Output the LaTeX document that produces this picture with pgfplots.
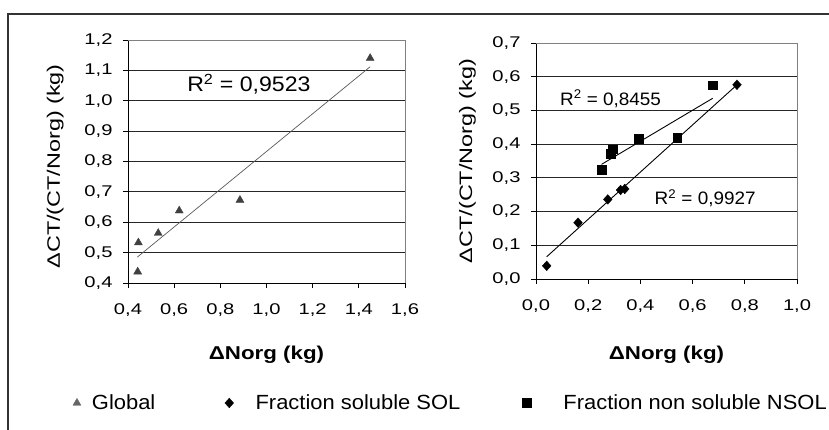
\documentclass[border=0pt]{standalone}
\usepackage{fontspec}
\setmainfont{Liberation Sans}
\usepackage{graphicx}
\usepackage{pgfplots}
\pgfplotsset{compat=1.18}

% the original text is set wider than Arial: stretch it along the baseline
\newcommand\wide[2]{\scalebox{#1}[1]{#2}}

% common look of both panels
\pgfplotsset{
  panel/.style={
    scale only axis, anchor=south west, clip=false,
    axis x line*=bottom, axis y line*=left,
    axis line style={-, black, line width=0.9pt},
    tick align=outside, major tick length=5pt,
    tick style={black, line width=0.9pt},
    ymajorgrids, grid style={black!85, line width=0.9pt},
    /pgf/number format/.cd, use comma, fixed, fixed zerofill, precision=1,
      assume math mode=true, /pgfplots/.cd,
    tick label style={font=\fontsize{15.5}{18}\selectfont},
    xticklabel={\wide{1.3}{\pgfmathprintnumber{\tick}}},
    yticklabel={\wide{1.3}{\pgfmathprintnumber{\tick}}},
    xticklabel style={yshift=-12pt},
    yticklabel style={xshift=-7pt},
    xlabel={\wide{1.2}{ΔNorg (kg)}},
    ylabel={\wide{1.3}{ΔCT/(CT/Norg) (kg)}},
    xlabel style={font=\bfseries\fontsize{18.6}{20}\selectfont, anchor=base},
    ylabel style={font=\fontsize{18}{20}\selectfont, anchor=base},
    after end axis/.code={
      \draw[black!50, line width=0.9pt] (rel axis cs:0,1) -- (rel axis cs:1,1) -- (rel axis cs:1,0);
    },
  },
}

\begin{document}
\begin{tikzpicture}
\useasboundingbox (0,0) rectangle (829pt,430pt);
\draw[black!80, line width=2pt] (8pt,0pt) -- (8pt,416pt) -- (829pt,416pt);

% left panel: Global
\begin{axis}[panel,
    at={(128pt,147pt)}, width=277pt, height=243pt,
    xmin=0.4, xmax=1.6, ymin=0.4, ymax=1.2,
    xtick={0.4,0.6,...,1.6}, ytick={0.4,0.5,...,1.2},
    xlabel style={at={(axis description cs:0.5,-0.3128)}},
    ylabel style={at={(axis description cs:-0.2455,0.48)}},
]
\addplot[only marks, mark=triangle*, mark size=4.6pt, color=black!75] coordinates {
    (0.442,0.437) (0.445,0.533) (0.531,0.564) (0.622,0.638) (0.885,0.673) (1.449,1.140)
};
\addplot[black!65, line width=0.7pt] coordinates {(0.44,0.485) (1.449,1.112)};
\node[anchor=base west, inner sep=0pt, font=\fontsize{21}{23}\selectfont]
    at (axis cs:0.656,1.030) {\wide{1.1}{R\textsuperscript{2} = 0,9523}};
\end{axis}

% right panel: SOL and NSOL fractions
\begin{axis}[panel,
    at={(536pt,151pt)}, width=261pt, height=236pt,
    xmin=0, xmax=1.0, ymin=0, ymax=0.7,
    xtick={0,0.2,...,1.0}, ytick={0,0.1,...,0.7},
    xlabel style={at={(axis description cs:0.5,-0.339)}},
    ylabel style={at={(axis description cs:-0.245,0.5)}},
    legend columns=3,
    legend cell align=left,
    legend style={at={(axis description cs:-1.774,-0.5254)}, anchor=west,
        draw=none, fill=none, inner sep=0pt, outer sep=0pt,
        font=\fontsize{20.5}{22}\selectfont,
        nodes={inner sep=0pt},
        /tikz/every odd column/.append style={column sep=11pt}},
    legend image code/.code={
        \draw[mark repeat=2, mark phase=2] plot coordinates {(0pt,0pt) (6pt,0pt) (12pt,0pt)};
    },
]
\addlegendimage{only marks, mark=triangle*, mark size=4.6pt, color=black!60}
\addlegendentry{\makebox[133pt][l]{\wide{1.07}{Global}}}
\addplot[only marks, mark=diamond*, mark size=4.8pt, mark options={xscale=1.2}, color=black] coordinates {
    (0.041,0.039) (0.161,0.167) (0.275,0.236) (0.324,0.264) (0.340,0.267) (0.770,0.576)
};
\addlegendentry{\makebox[278pt][l]{\hspace{11pt}\wide{1.07}{Fraction soluble SOL}}}
\addplot[only marks, mark=square*, mark size=4.4pt, color=black] coordinates {
    (0.253,0.323) (0.286,0.371) (0.295,0.385) (0.392,0.415) (0.541,0.418) (0.677,0.575)
};
\addlegendentry{\hspace{21pt}\wide{1.07}{Fraction non soluble NSOL}}
\addplot[forget plot, black, line width=0.9pt] coordinates {(0.041,0.066) (0.770,0.576)};
\addplot[forget plot, black, line width=0.9pt] coordinates {(0.251,0.340) (0.677,0.536)};
\node[anchor=base west, inner sep=0pt, font=\fontsize{18}{20}\selectfont]
    at (axis cs:0.0916,0.516) {\wide{1.05}{R\textsuperscript{2} = 0,8455}};
\node[anchor=base west, inner sep=0pt, font=\fontsize{18}{20}\selectfont]
    at (axis cs:0.454,0.2195) {\wide{1.05}{R\textsuperscript{2} = 0,9927}};
\end{axis}
\end{tikzpicture}
\end{document}
